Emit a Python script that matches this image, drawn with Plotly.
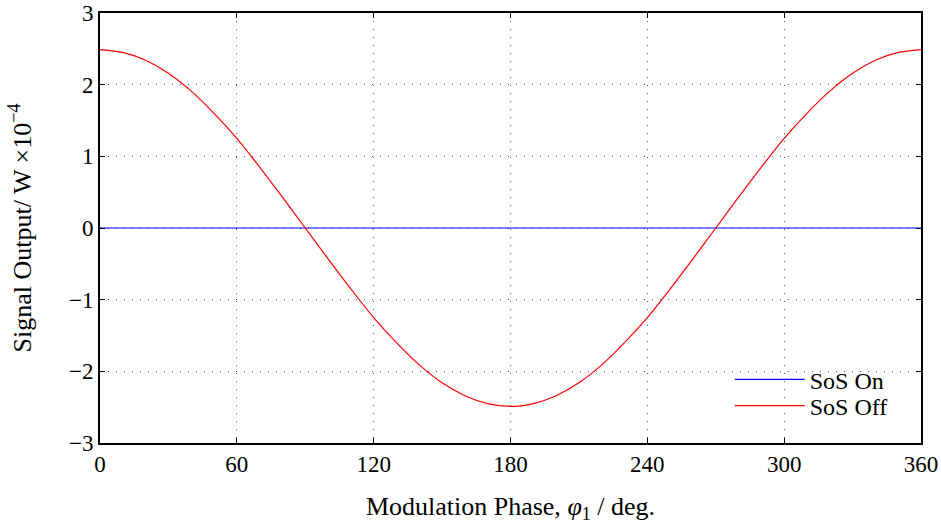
import plotly.graph_objects as go

# modulation phase (deg) and signal output (x1e-4 W)
phase_deg = [0, 10, 20, 30, 40, 50, 60, 70, 80, 90, 100, 110, 120, 130, 140, 150, 160, 170, 180,
             190, 200, 210, 220, 230, 240, 250, 260, 270, 280, 290, 300, 310, 320, 330, 340, 350, 360]
sos_off = [2.49, 2.45, 2.34, 2.16, 1.91, 1.60, 1.25, 0.85, 0.43, 0.0,
           -0.43, -0.85, -1.25, -1.60, -1.91, -2.16, -2.34, -2.45, -2.49,
           -2.45, -2.34, -2.16, -1.91, -1.60, -1.25, -0.85, -0.43, 0.0,
           0.43, 0.85, 1.25, 1.60, 1.91, 2.16, 2.34, 2.45, 2.49]
sos_on = [0.0] * len(phase_deg)

x_ticks = [0, 60, 120, 180, 240, 300, 360]
y_ticks = [-3, -2, -1, 0, 1, 2, 3]

FONT = "Liberation Serif"

fig = go.Figure()
fig.add_trace(go.Scatter(x=phase_deg, y=sos_on, mode="lines", name="SoS On",
                         line=dict(color="#0000ff", width=1.2), legend="legend",
                         showlegend=True))
fig.add_trace(go.Scatter(x=phase_deg, y=sos_off, mode="lines", name="SoS Off",
                         line=dict(color="#ff0000", width=1.2, shape="spline", smoothing=0.8),
                         legend="legend2", showlegend=True))

axis_common = dict(
    showline=True, linecolor="black", linewidth=1.6, mirror="ticks",
    ticks="inside", ticklen=5, tickcolor="black", tickwidth=1,
    showgrid=True, gridcolor="#555555", gridwidth=1, griddash="1px,7px",
    zeroline=False, automargin=False,
    tickfont=dict(family=FONT, size=23, color="black"),
)

fig.update_xaxes(range=[0, 360], tickvals=x_ticks, **axis_common,
                 title=dict(text="Modulation Phase, <i>φ</i><sub>1</sub> / deg.",
                            font=dict(family=FONT, size=26, color="black"), standoff=27))
fig.update_yaxes(range=[-3, 3], tickvals=y_ticks, **axis_common,
                 title=dict(text="Signal Output/ W ×10<sup>−4</sup>",
                            font=dict(family=FONT, size=26, color="black"), standoff=30))

legend_style = dict(xanchor="left", yanchor="middle", bgcolor="rgba(0,0,0,0)", borderwidth=0,
                    font=dict(family=FONT, size=24, color="black"), itemwidth=70)

fig.update_layout(
    width=941, height=524,
    margin=dict(l=100, r=20, t=13, b=81),
    paper_bgcolor="white", plot_bgcolor="white",
    font=dict(family=FONT, color="black"),
    showlegend=True,
    legend=dict(x=0.767, y=0.147, **legend_style),
    legend2=dict(x=0.767, y=0.086, **legend_style),
)

# drop the browser's default body margin so the figure fills the window
fig.write_html("out.html", config={"displayModeBar": False},
               post_script="document.body.style.margin='0';")
